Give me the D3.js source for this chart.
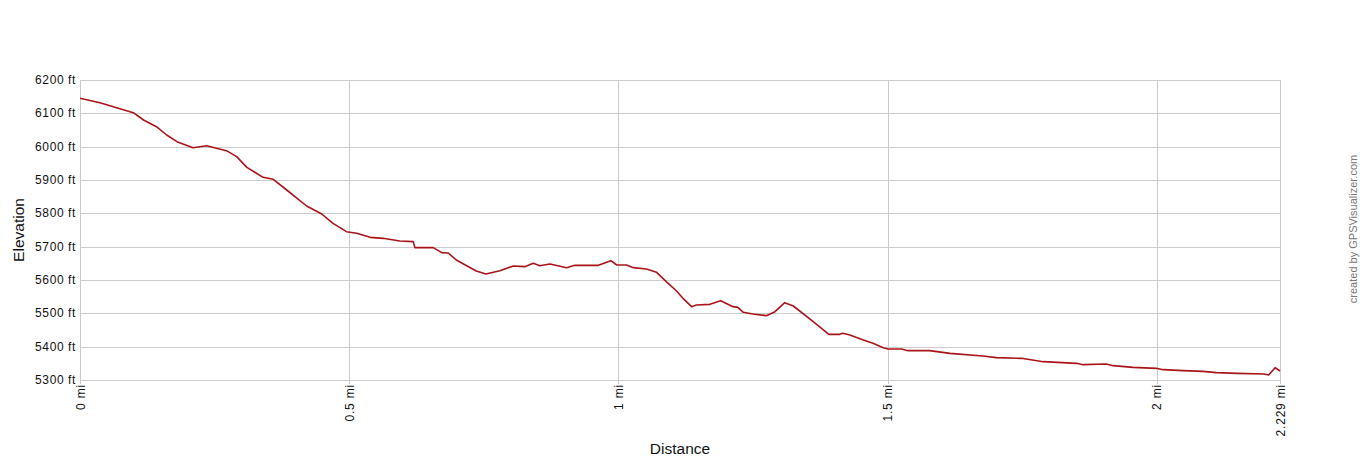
<!DOCTYPE html>
<html>
<head>
<meta charset="utf-8">
<script src="https://cdn.jsdelivr.net/npm/d3@7"></script>
<style>
  body { margin: 0; background: #fff; }
  text { font-family: Arial, "Liberation Sans", sans-serif; }
</style>
</head>
<body>
<div class="canvas"></div>
<script>
// distance (mi) and elevation (ft)
const distance = [0, 0.037, 0.099, 0.118, 0.142, 0.161, 0.180, 0.210, 0.235, 0.272, 0.291, 0.310,
  0.340, 0.359, 0.384, 0.421, 0.449, 0.470, 0.495, 0.514, 0.539, 0.563, 0.594, 0.619, 0.622,
  0.656, 0.672, 0.684, 0.699, 0.736, 0.754, 0.780, 0.805, 0.826, 0.842, 0.854, 0.873, 0.904,
  0.919, 0.963, 0.986, 0.997, 1.015, 1.028, 1.052, 1.071, 1.089, 1.108, 1.120, 1.136, 1.145,
  1.170, 1.190, 1.213, 1.222, 1.232, 1.250, 1.275, 1.291, 1.309, 1.325, 1.362, 1.391, 1.411,
  1.417, 1.430, 1.455, 1.473, 1.492, 1.501, 1.526, 1.538, 1.578, 1.616, 1.677, 1.702, 1.749,
  1.789, 1.851, 1.863, 1.906, 1.919, 1.956, 1.999, 2.012, 2.049, 2.086, 2.111, 2.150, 2.199,
  2.208, 2.220, 2.229];
const elevation = [6145, 6132, 6102, 6080, 6060, 6035, 6015, 5997, 6003, 5988, 5970, 5938,
  5908, 5902, 5870, 5822, 5798, 5770, 5745, 5740, 5728, 5725, 5717, 5715, 5697,
  5697, 5682, 5681, 5660, 5627, 5618, 5628, 5642, 5640, 5650, 5643, 5648, 5637,
  5644, 5644, 5658, 5645, 5645, 5637, 5633, 5623, 5595, 5567, 5545, 5520, 5525,
  5527, 5538, 5520, 5518, 5503, 5498, 5493, 5505, 5532, 5522, 5475, 5437, 5437,
  5440, 5435, 5420, 5410, 5397, 5393, 5393, 5388, 5388, 5380, 5372, 5367, 5365,
  5355, 5350, 5346, 5348, 5343, 5338, 5335, 5331, 5328, 5326, 5322, 5320, 5318,
  5315, 5337, 5327];
const yTicks = [5300, 5400, 5500, 5600, 5700, 5800, 5900, 6000, 6100, 6200];
const xTicks = [0, 0.5, 1, 1.5, 2, 2.229];

const dims = { width: 1360, height: 460 };
const plot = { left: 80, right: 1280, top: 80, bottom: 380 };

const svg = d3.select('.canvas')
  .append('svg')
  .attr('width', dims.width)
  .attr('height', dims.height);

const x = d3.scaleLinear().domain([0, 2.229]).range([plot.left, plot.right]);
const y = d3.scaleLinear().domain([5300, 6200]).range([plot.bottom, plot.top]);

// horizontal grid
svg.append('g')
  .selectAll('line')
  .data(yTicks)
  .enter()
  .append('line')
  .attr('x1', plot.left)
  .attr('x2', plot.right)
  .attr('y1', d => Math.round(y(d)) + 0.5)
  .attr('y2', d => Math.round(y(d)) + 0.5)
  .attr('stroke', '#cccccc');

// vertical grid
svg.append('g')
  .selectAll('line')
  .data(xTicks)
  .enter()
  .append('line')
  .attr('x1', d => Math.round(x(d)) + 0.5)
  .attr('x2', d => Math.round(x(d)) + 0.5)
  .attr('y1', plot.top)
  .attr('y2', plot.bottom + 4)
  .attr('stroke', '#cccccc');

// y tick labels
svg.append('g')
  .selectAll('text')
  .data(yTicks)
  .enter()
  .append('text')
  .attr('x', plot.left - 4)
  .attr('y', d => y(d) + 4)
  .attr('text-anchor', 'end')
  .attr('font-size', 12)
  .attr('letter-spacing', 0.6)
  .attr('fill', '#111')
  .text(d => d + ' ft');

// x tick labels
svg.append('g')
  .selectAll('text')
  .data(xTicks)
  .enter()
  .append('text')
  .attr('transform', d => `translate(${x(d) + 4.5}, ${plot.bottom + 4}) rotate(-90)`)
  .attr('text-anchor', 'end')
  .attr('font-size', 12)
  .attr('letter-spacing', 0.8)
  .attr('fill', '#111')
  .text(d => d + ' mi');

// elevation line
const line = d3.line()
  .x((d, i) => x(distance[i]))
  .y(d => y(d));

svg.append('path')
  .datum(elevation)
  .attr('d', line)
  .attr('fill', 'none')
  .attr('stroke', '#a8141a')
  .attr('stroke-width', 1.6)
  .attr('stroke-linejoin', 'round');

// axis titles
svg.append('text')
  .attr('transform', `translate(24, 230) rotate(-90)`)
  .attr('text-anchor', 'middle')
  .attr('font-size', 15.5)
  .attr('fill', '#111')
  .text('Elevation');

svg.append('text')
  .attr('x', 680)
  .attr('y', 454)
  .attr('text-anchor', 'middle')
  .attr('font-size', 15.5)
  .attr('fill', '#111')
  .text('Distance');

svg.append('text')
  .attr('transform', `translate(1357, 229) rotate(-90)`)
  .attr('text-anchor', 'middle')
  .attr('font-size', 11)
  .attr('fill', '#777')
  .text('created by GPSVisualizer.com');
</script>
</body>
</html>
